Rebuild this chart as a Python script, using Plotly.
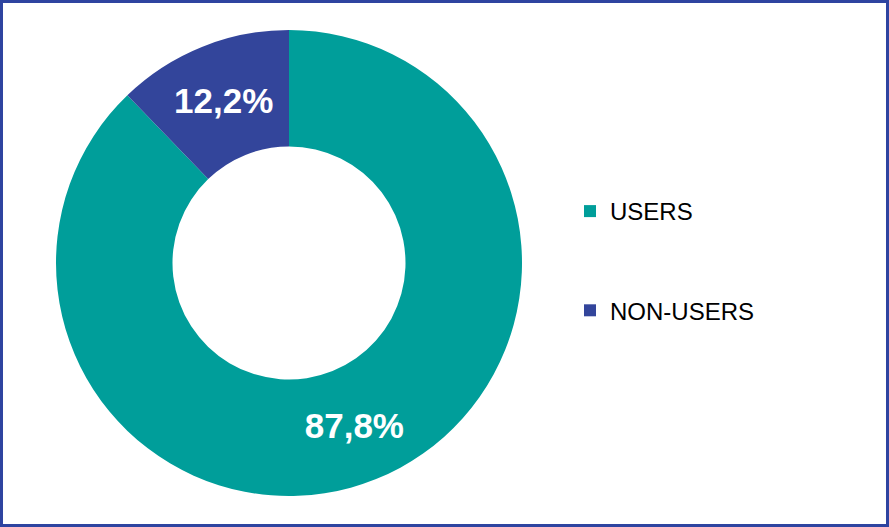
import plotly.graph_objects as go

labels = ["USERS", "NON-USERS"]
values = [87.8, 12.2]
text_labels = ["87,8%", "12,2%"]
colors = ["#009E9A", "#33459B"]

W, H = 889, 527
cx, cy, R = 289, 263, 233

fig = go.Figure()
fig.add_trace(go.Pie(
    labels=labels, values=values, text=text_labels,
    texttemplate="<b>%{text}</b>", textinfo="text", textposition="inside",
    insidetextfont=dict(family="Liberation Sans, Arial", size=35, color="white"),
    hole=0.5, sort=False, direction="clockwise", rotation=0,
    marker=dict(colors=colors, line=dict(width=0)),
    showlegend=False, hoverinfo="label+percent",
    domain=dict(x=[(cx - R) / W, (cx + R) / W],
                y=[(H - cy - R) / H, (H - cy + R) / H]),
))
for i, (lab, col) in enumerate(zip(labels, colors)):
    fig.add_trace(go.Scatter(
        x=[None], y=[None], mode="markers", name=lab, legendgroup=lab,
        marker=dict(symbol="square", size=12, color=col), showlegend=True,
    ))

fig.update_layout(
    width=W, height=H, margin=dict(l=0, r=0, t=0, b=0),
    paper_bgcolor="white", plot_bgcolor="white",
    xaxis=dict(visible=False), yaxis=dict(visible=False),
    legend=dict(x=570 / W, xanchor="left", y=1 - 261 / H, yanchor="middle",
                font=dict(family="Liberation Sans, Arial", size=24, color="black"),
                tracegroupgap=65, traceorder="grouped", bgcolor="rgba(0,0,0,0)"),
    shapes=[dict(type="rect", xref="paper", yref="paper", x0=0, x1=1, y0=0, y1=1,
                 line=dict(color="#2E44A0", width=6), fillcolor="rgba(0,0,0,0)")],
)
fig.write_html("out.html", config={"displayModeBar": False},
               post_script="document.body.style.margin='0';document.body.style.overflow='hidden';")
